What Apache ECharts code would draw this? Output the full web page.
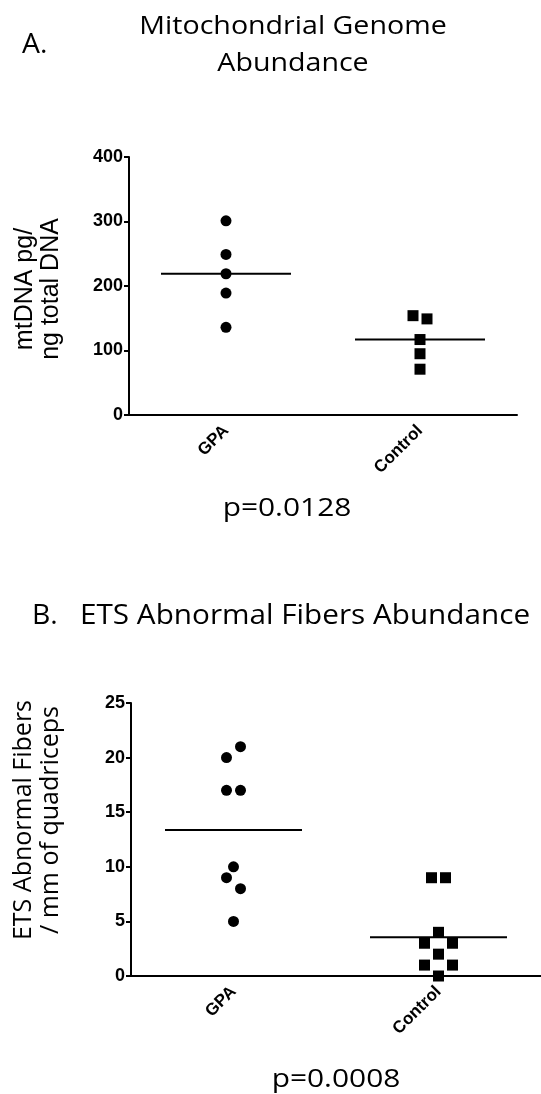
<!DOCTYPE html>
<html><head><meta charset="utf-8">
<script src="https://cdn.jsdelivr.net/npm/echarts@6/dist/echarts.min.js"></script>
<style>html,body{margin:0;padding:0;background:#fff}#c{width:541px;height:1094px}</style>
</head><body><div id="c"></div>
<script>
// ---- data ----
const categories = ['GPA', 'Control'];
const aTicks = [0, 100, 200, 300, 400];
const bTicks = [0, 5, 10, 15, 20, 25];
const aGPA = [301, 249, 219, 189, 136];
const aControl = [154, 149, 117, 95, 71];
const bGPA = [21, 20, 17, 17, 10, 9, 8, 5];
const bControl = [9, 9, 4, 3, 3, 2, 1, 1, 0];
// horizontal jitter (px) of overlapping points
const aGPAJit = [0, 0, 0, 0, 0];
const aControlJit = [-7, 7, 0, 0, 0];
const bGPAJit = [7, -7, -7, 7, 0, -7, 7, 0];
const bControlJit = [-7, 7, 0, -14, 14, 0, -14, 14, 0];

const mean = a => a.reduce((s, v) => s + v, 0) / a.length;
const pts = (cat, vals, jit) => vals.map((v, i) => ({value: [cat, v], symbolOffset: [jit[i], 0]}));

const LBL = 'Liberation Sans';
const TTL = '"Open Sans", "Noto Sans", sans-serif';
const ARL = '"Liberation Sans", Arial, sans-serif';

function xAxis(gi) {
  return {
    type: 'category', gridIndex: gi, data: categories, boundaryGap: true,
    axisLine: {lineStyle: {color: '#000', width: 2}},
    axisTick: {alignWithLabel: true, length: 5, lineStyle: {color: '#000', width: 2}},
    axisLabel: {rotate: 45, margin: 13, color: '#000', fontFamily: LBL, fontWeight: 'bold', fontSize: 17},
    splitLine: {show: false}
  };
}
function yAxis(gi, ticks) {
  return {
    type: 'value', gridIndex: gi, min: ticks[0], max: ticks[ticks.length - 1],
    interval: ticks[1] - ticks[0],
    axisLine: {show: true, lineStyle: {color: '#000', width: 2}},
    axisTick: {show: true, length: 5, lineStyle: {color: '#000', width: 2}},
    axisLabel: {margin: 6, color: '#000', fontFamily: LBL, fontWeight: 'bold', fontSize: 18},
    splitLine: {show: false}
  };
}
function dots(gi, cat, vals, jit, sym) {
  return {type: 'scatter', xAxisIndex: gi, yAxisIndex: gi, symbol: sym, symbolSize: 11,
    itemStyle: {color: '#000', opacity: 1}, z: 3, silent: true, data: pts(cat, vals, jit)};
}
function meanLine(gi, len, groups) {
  return {type: 'scatter', xAxisIndex: gi, yAxisIndex: gi, symbol: 'rect', symbolSize: [len, 2],
    itemStyle: {color: '#000', opacity: 1}, z: 2, silent: true,
    data: groups.map(g => [g[0], mean(g[1])])};
}

const chart = echarts.init(document.getElementById('c'), null, {renderer: 'canvas'});
chart.setOption({
  animation: false,
  grid: [
    {left: 129, right: 24, top: 157, height: 258},
    {left: 131, right: 0, top: 703, height: 273}
  ],
  xAxis: [xAxis(0), xAxis(1)],
  yAxis: [yAxis(0, aTicks), yAxis(1, bTicks)],
  series: [
    meanLine(0, 130, [['GPA', aGPA], ['Control', aControl]]),
    dots(0, 'GPA', aGPA, aGPAJit, 'circle'),
    dots(0, 'Control', aControl, aControlJit, 'rect'),
    meanLine(1, 137, [['GPA', bGPA], ['Control', bControl]]),
    dots(1, 'GPA', bGPA, bGPAJit, 'circle'),
    dots(1, 'Control', bControl, bControlJit, 'rect')
  ],
  graphic: [
    {type: 'text', x: 22, y: 45, scaleX: 1.05, style: {text: 'A.', font: '27px ' + TTL, fill: '#000', verticalAlign: 'middle'}},
    {type: 'text', x: 293, y: 27, scaleX: 1.1, style: {text: 'Mitochondrial Genome', font: '26px ' + TTL, fill: '#000', align: 'center', verticalAlign: 'middle'}},
    {type: 'text', x: 293, y: 64, scaleX: 1.1, style: {text: 'Abundance', font: '26px ' + TTL, fill: '#000', align: 'center', verticalAlign: 'middle'}},
    {type: 'text', x: 38, y: 289, rotation: Math.PI / 2, style: {text: 'mtDNA pg/\nng total DNA', font: '25px ' + ARL, fill: '#000', align: 'center', verticalAlign: 'middle', lineHeight: 26}},
    {type: 'text', x: 287, y: 509, scaleX: 1.15, style: {text: 'p=0.0128', font: '26px ' + TTL, fill: '#000', align: 'center', verticalAlign: 'middle'}},
    {type: 'text', x: 32, y: 616, scaleX: 1.05, style: {text: 'B.', font: '27px ' + TTL, fill: '#000', verticalAlign: 'middle'}},
    {type: 'text', x: 80, y: 616, scaleX: 1.1, style: {text: 'ETS Abnormal Fibers Abundance', font: '27px ' + TTL, fill: '#000', verticalAlign: 'middle'}},
    {type: 'text', x: 37, y: 820, rotation: Math.PI / 2, style: {text: 'ETS Abnormal Fibers\n/ mm of quadriceps', font: '25px ' + TTL, fill: '#000', align: 'center', verticalAlign: 'middle', lineHeight: 27}},
    {type: 'text', x: 336, y: 1080, scaleX: 1.15, style: {text: 'p=0.0008', font: '26px ' + TTL, fill: '#000', align: 'center', verticalAlign: 'middle'}}
  ]
});
</script></body></html>
